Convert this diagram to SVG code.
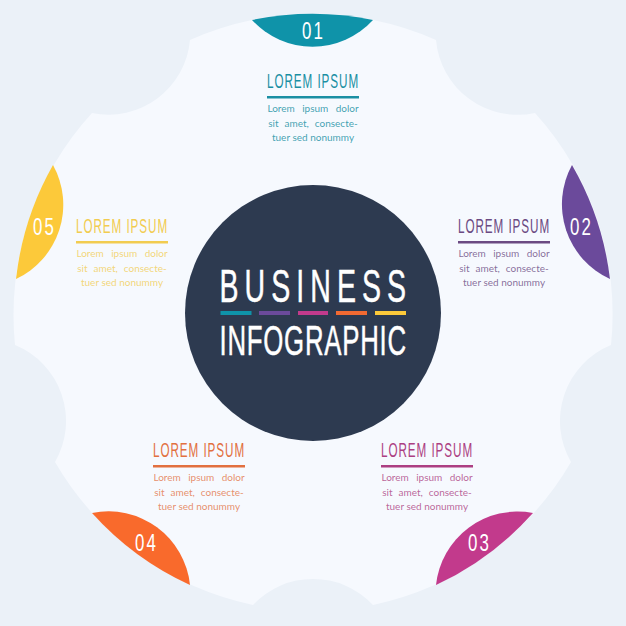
<svg xmlns="http://www.w3.org/2000/svg" width="626" height="626" viewBox="0 0 626 626">
<style>
.h{font-family:"Liberation Sans",Arial,sans-serif;font-size:19.5px}
.b{font-family:"Lato","Open Sans",sans-serif;font-size:10px;text-anchor:middle;fill-opacity:.9}
.w1{word-spacing:4.8px}
.w2{word-spacing:3.4px}
.n{font-family:"Liberation Sans",Arial,sans-serif;font-size:23.5px;fill:#fff}
.t{font-family:"Liberation Sans",Arial,sans-serif;fill:#fff;stroke:#fff;stroke-width:.5px}
.r{height:2.5px;width:92px}
.bar{height:4px}
</style>
<rect width="626" height="626" fill="#ebf1f8"/>
<g id="gear">
<path fill="#f6f9fe" d="M252 20 A299 299 0 0 0 190 40 A82 82 0 0 1 92 113 A299 299 0 0 0 15 345 A82 82 0 0 1 55 462 A299 299 0 0 0 253 605 A82 82 0 0 1 373 605 A299 299 0 0 0 571 462 A82 82 0 0 1 611 345 A299 299 0 0 0 535 113 A82 82 0 0 1 436 40 A299 299 0 0 0 373 20 Z"/>
</g>
<g id="node-center">
<circle cx="313" cy="313" r="128" fill="#2d3a50"/>
<text class="t" transform="translate(219.500 302) scale(.62 1)" font-size="46" textLength="301" lengthAdjust="spacing">BUSINESS</text>
<text class="t" transform="translate(219.500 355) scale(.6 1)" font-size="43" textLength="311" lengthAdjust="spacing">INFOGRAPHIC</text>
<rect class="bar" x="220.500" y="311" width="31" fill="#0f93a9"/>
<rect class="bar" x="259" y="311" width="31" fill="#6b4a9b"/>
<rect class="bar" x="298" y="311" width="30" fill="#c23a8c"/>
<rect class="bar" x="336" y="311" width="31" fill="#f26a32"/>
<rect class="bar" x="375" y="311" width="31" fill="#fcc93a"/>
</g>
<g id="node-01">
<path fill="#0f93a9" d="M252 20 A299 299 0 0 1 373 20 A82 82 0 0 1 252 20 Z"/>
<text class="n" transform="translate(302 38.500) scale(.72 1)" textLength="29" lengthAdjust="spacing">01</text>
<text class="h" transform="translate(267 88) scale(.6 1)" fill="#1a8fa3" textLength="152" lengthAdjust="spacing">LOREM IPSUM</text>
<rect class="r" x="267" y="96" fill="#1a8fa3"/>
<g fill="#2d97a9">
<text class="b w1" x="313" y="112">Lorem ipsum dolor</text>
<text class="b w2" x="313" y="127">sit amet, consecte-</text>
<text class="b" x="313" y="141">tuer sed nonummy</text>
</g>
</g>
<g id="node-02">
<path fill="#6b4a9b" d="M572 165 A299 299 0 0 1 610 279 A82 82 0 0 1 572 165 Z"/>
<text class="n" transform="translate(570 235) scale(.72 1)" textLength="29" lengthAdjust="spacing">02</text>
<text class="h" transform="translate(458 233) scale(.6 1)" fill="#6b4a82" textLength="152" lengthAdjust="spacing">LOREM IPSUM</text>
<rect class="r" x="458" y="241" fill="#6b4a82"/>
<g fill="#7a5e90">
<text class="b w1" x="504" y="257">Lorem ipsum dolor</text>
<text class="b w2" x="504" y="272">sit amet, consecte-</text>
<text class="b" x="504" y="286">tuer sed nonummy</text>
</g>
</g>
<g id="node-03">
<path fill="#c23a8c" d="M533 513 A299 299 0 0 1 436 585 A82 82 0 0 1 533 513 Z"/>
<text class="n" transform="translate(468 551) scale(.72 1)" textLength="29" lengthAdjust="spacing">03</text>
<text class="h" transform="translate(381 457) scale(.6 1)" fill="#ac3f82" textLength="152" lengthAdjust="spacing">LOREM IPSUM</text>
<rect class="r" x="381" y="465" fill="#ac3f82"/>
<g fill="#b4558f">
<text class="b w1" x="427" y="481">Lorem ipsum dolor</text>
<text class="b w2" x="427" y="496">sit amet, consecte-</text>
<text class="b" x="427" y="510">tuer sed nonummy</text>
</g>
</g>
<g id="node-04">
<path fill="#f96a2c" d="M190 585 A299 299 0 0 1 92 513 A82 82 0 0 1 190 585 Z"/>
<text class="n" transform="translate(135 551) scale(.72 1)" textLength="29" lengthAdjust="spacing">04</text>
<text class="h" transform="translate(153 457) scale(.6 1)" fill="#e2703f" textLength="152" lengthAdjust="spacing">LOREM IPSUM</text>
<rect class="r" x="153" y="465" fill="#e2703f"/>
<g fill="#e5835a">
<text class="b w1" x="199" y="481">Lorem ipsum dolor</text>
<text class="b w2" x="199" y="496">sit amet, consecte-</text>
<text class="b" x="199" y="510">tuer sed nonummy</text>
</g>
</g>
<g id="node-05">
<path fill="#fcc93a" d="M16 279 A299 299 0 0 1 53 165 A82 82 0 0 1 16 279 Z"/>
<text class="n" transform="translate(33 235) scale(.72 1)" textLength="29" lengthAdjust="spacing">05</text>
<text class="h" transform="translate(76 233) scale(.6 1)" fill="#f2cc50" textLength="152" lengthAdjust="spacing">LOREM IPSUM</text>
<rect class="r" x="76" y="241" fill="#f2cc50"/>
<g fill="#f2d26a">
<text class="b w1" x="122" y="257">Lorem ipsum dolor</text>
<text class="b w2" x="122" y="272">sit amet, consecte-</text>
<text class="b" x="122" y="286">tuer sed nonummy</text>
</g>
</g>
</svg>
